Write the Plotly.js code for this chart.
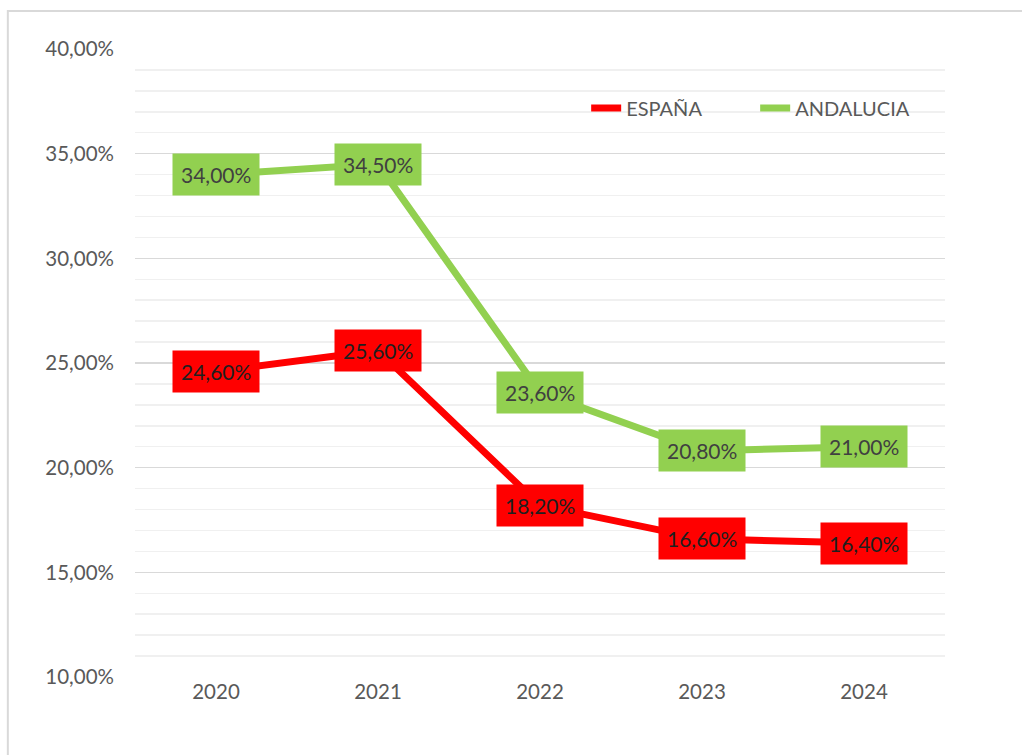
<!DOCTYPE html>
<html>
<head>
<meta charset="utf-8">
<script src="https://cdn.plot.ly/plotly-3.0.1.min.js"></script>
<style>html,body{margin:0;padding:0;background:#fff;}#chart{width:1022px;height:755px;}</style>
</head>
<body>
<div id="chart"></div>
<script>
const years = ["2020", "2021", "2022", "2023", "2024"];
const espana = [0.246, 0.256, 0.182, 0.166, 0.164];
const andalucia = [0.340, 0.345, 0.236, 0.208, 0.210];
const seriesNames = ["ESPAÑA", "ANDALUCIA"];
const seriesColors = ["#FF0000", "#92D050"];
const labelTextColors = ["#1f1f1f", "#404040"];

const FONT = "Lato, sans-serif";
const allSeries = [espana, andalucia];

const traces = allSeries.map((vals, i) => ({
  x: years, y: vals, type: "scatter", mode: "lines",
  name: seriesNames[i],
  line: {color: seriesColors[i], width: 7},
  hoverinfo: "skip"
}));

const fmt = v => (v * 100).toFixed(2).replace(".", ",") + "%";
const annotations = [];
allSeries.forEach((vals, i) => {
  vals.forEach((v, j) => {
    annotations.push({
      x: j, y: v, xref: "x", yref: "y",
      text: fmt(v), showarrow: false,
      bgcolor: seriesColors[i], borderpad: 8,
      font: {family: FONT, size: 21, color: labelTextColors[i]}
    });
  });
});

const layout = {
  width: 1022, height: 755,
  margin: {l: 135, r: 77, t: 49, b: 78},
  paper_bgcolor: "#fff", plot_bgcolor: "#fff",
  separators: ",.",
  font: {family: FONT, size: 20, color: "#595959"},
  showlegend: true,
  legend: {orientation: "h", x: 0.557, y: 0.906, xanchor: "left", yanchor: "middle",
           font: {family: FONT, size: 20, color: "#595959"}, entrywidth: 124, entrywidthmode: "pixels",
           bgcolor: "rgba(0,0,0,0)"},
  xaxis: {type: "category", range: [-0.5, 4.5], showgrid: false, zeroline: false,
          showline: false, ticks: "", tickfont: {family: FONT, size: 20.5, color: "#595959"}},
  yaxis: {range: [0.10, 0.40], dtick: 0.05, tick0: 0.10, tickformat: ".2%",
          showgrid: true, gridcolor: "#d9d9d9", gridwidth: 1.5, zeroline: false,
          showline: false, ticks: "", ticklabelstandoff: 20,
          tickfont: {family: FONT, size: 20.5, color: "#595959"},
          minor: {dtick: 0.01, showgrid: true, gridcolor: "#f0f0f0", gridwidth: 1.5}},
  annotations: annotations,
  shapes: [{type: "rect", xref: "paper", yref: "paper",
            x0: -0.157, x1: 1.11, y0: -0.16, y1: 1.0605,
            line: {color: "#d9d9d9", width: 2}, fillcolor: "rgba(0,0,0,0)", layer: "below"}]
};

Plotly.newPlot("chart", traces, layout, {displayModeBar: false, staticPlot: true});
</script>
</body>
</html>
